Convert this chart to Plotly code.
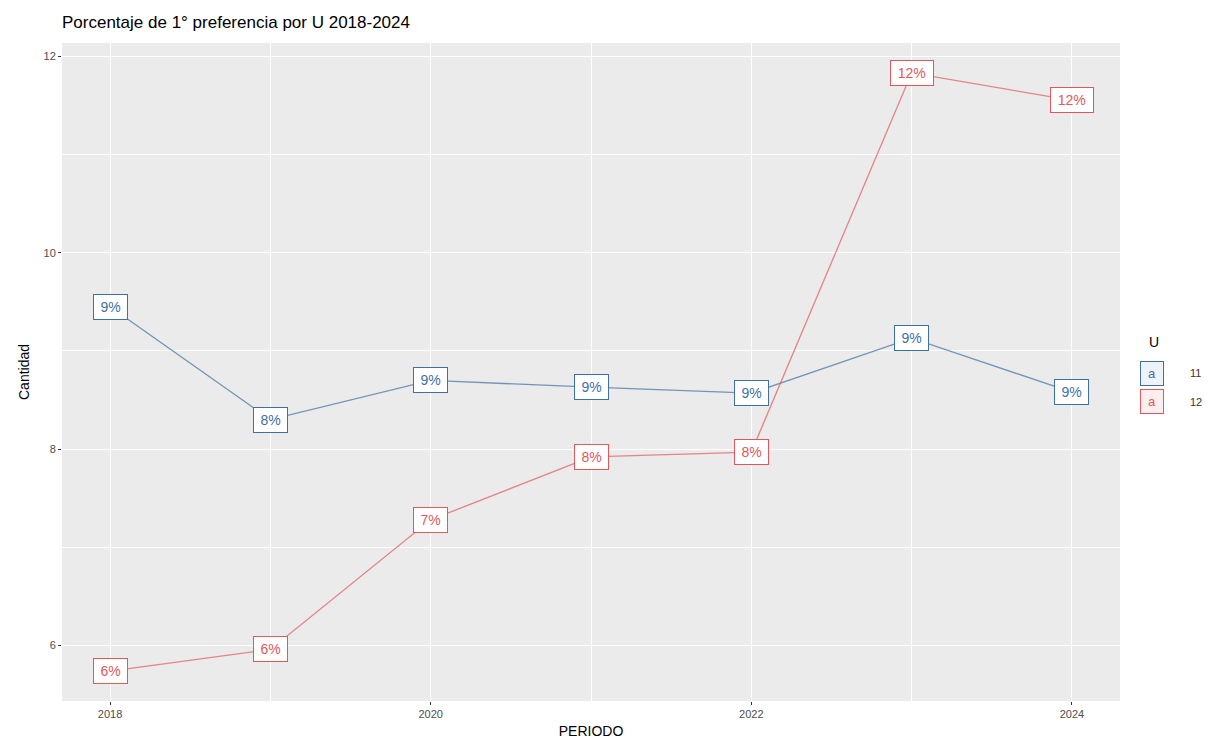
import plotly.graph_objects as go

# ---- data ----
periodo = [2018, 2019, 2020, 2021, 2022, 2023, 2024]
u11_vals = [9.45, 8.30, 8.70, 8.63, 8.57, 9.13, 8.58]
u12_vals = [5.74, 5.96, 7.28, 7.92, 7.97, 11.83, 11.55]
u11_labels = ["9%", "8%", "9%", "9%", "9%", "9%", "9%"]
u12_labels = ["6%", "6%", "7%", "8%", "8%", "12%", "12%"]
series_names = ["11", "12"]
y_ticks = [6, 8, 10, 12]
x_ticks = [2018, 2020, 2022, 2024]

BLUE = "#3f6fa3"
RED = "#e2575b"
BLUE_LINE = "rgba(63,111,163,0.7)"
RED_LINE = "rgba(226,87,91,0.7)"

OFF = 8  # page body margin
W, H = 1213 - OFF, 747 - OFF
L, R, T, B = 62 - OFF, 93, 43 - OFF, 46

fig = go.Figure()
fig.add_trace(go.Scatter(x=periodo, y=u11_vals, mode="lines",
                         line=dict(color=BLUE_LINE, width=1.3), showlegend=False,
                         name=series_names[0]))
fig.add_trace(go.Scatter(x=periodo, y=u12_vals, mode="lines",
                         line=dict(color=RED_LINE, width=1.3), showlegend=False,
                         name=series_names[1]))

FONT = "Liberation Sans, Arial, sans-serif"

def add_labels(xs, ys, labels, color):
    for x, y, t in zip(xs, ys, labels):
        fig.add_annotation(x=x, y=y, xref="x", yref="y", text=t, showarrow=False,
                           font=dict(family=FONT, size=14, color=color),
                           bgcolor="white", bordercolor=color, borderwidth=1,
                           borderpad=3, width=10 + 8.5 * len(t), height=18)

add_labels(periodo, u11_vals, u11_labels, BLUE)
add_labels(periodo, u12_vals, u12_labels, RED)

# ---- legend (ggplot style, drawn manually) ----
pw = W - L - R
ph = H - T - B
def px_x(px):  # page px -> paper
    return (px - OFF - L) / pw
def px_y(py):
    return (H - B - (py - OFF)) / ph

fig.add_annotation(x=px_x(1147), y=px_y(342), xref="paper", yref="paper",
                   text="U", showarrow=False, xanchor="left", yanchor="middle",
                   font=dict(family=FONT, size=14, color="black"))
for name, col, fill, cy in [(series_names[0], BLUE, "#eef3f9", 373),
                            (series_names[1], RED, "#fbeeee", 402)]:
    fig.add_annotation(x=px_x(1164), y=px_y(cy), xref="paper", yref="paper",
                       text="a", showarrow=False,
                       font=dict(family=FONT, size=13, color=col),
                       bgcolor=fill, bordercolor=col, borderwidth=1,
                       borderpad=2, width=18, height=19)
    fig.add_annotation(x=px_x(1188), y=px_y(cy), xref="paper", yref="paper",
                       text=name, showarrow=False, xanchor="left", yanchor="middle",
                       font=dict(family=FONT, size=11, color="#333333"))

fig.update_layout(
    width=W, height=H,
    margin=dict(l=L, r=R, t=T, b=B, autoexpand=False),
    paper_bgcolor="white",
    plot_bgcolor="#EBEBEB",
    font=dict(family=FONT),
    title=dict(text="Porcentaje de 1° preferencia por U 2018-2024",
               x=L / W, xanchor="left", xref="container",
               y=1 - (22 - OFF) / H, yanchor="middle", yref="container",
               font=dict(family=FONT, size=17, color="black")),
    xaxis=dict(range=[2017.7, 2024.3], tickvals=x_ticks, ticktext=[str(v) for v in x_ticks],
               showgrid=True, gridcolor="white", gridwidth=1.1,
               minor=dict(dtick=1, tick0=2017, showgrid=True, gridcolor="white", gridwidth=0.5),
               ticks="outside", ticklen=3, tickcolor="#333333", tickwidth=1,
               tickfont=dict(family=FONT, size=11, color="#4D4D4D"),
               zeroline=False, showline=False, automargin=False,
               title=dict(text="PERIODO", standoff=6,
                          font=dict(family=FONT, size=14, color="black"))),
    yaxis=dict(range=[5.435, 12.135], tickvals=y_ticks, ticktext=[str(v) for v in y_ticks],
               showgrid=True, gridcolor="white", gridwidth=1.1,
               minor=dict(dtick=1, tick0=5, showgrid=True, gridcolor="white", gridwidth=0.5),
               ticks="outside", ticklen=3, tickcolor="#333333", tickwidth=1,
               tickfont=dict(family=FONT, size=11, color="#4D4D4D"),
               zeroline=False, showline=False, automargin=False,
               title=dict(text="Cantidad", standoff=10,
                          font=dict(family=FONT, size=14, color="black"))),
)

fig.write_html("out.html")
